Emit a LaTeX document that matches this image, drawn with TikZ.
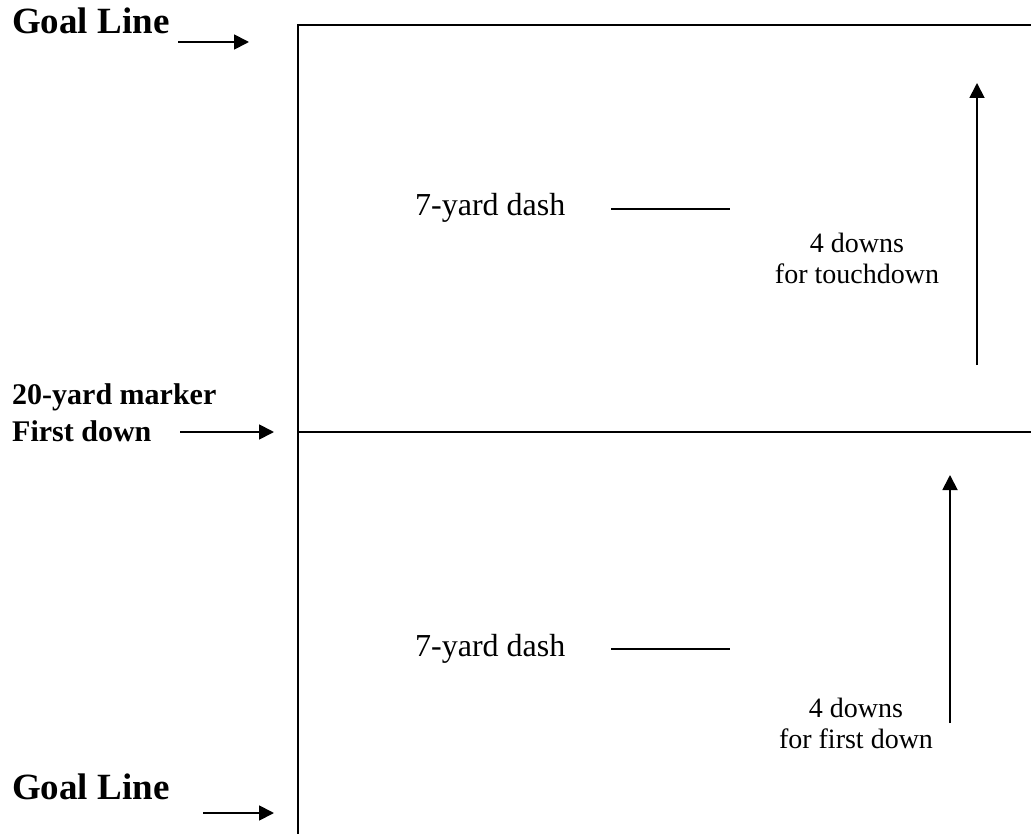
\documentclass[tikz,border=0pt]{standalone}
\usepackage{fontspec}
\setmainfont{Liberation Serif}
\usetikzlibrary{arrows.meta}

\begin{document}
\begin{tikzpicture}[x=1pt,y=-1pt,
   side/.style={font=\fontsize{30}{36}\selectfont\bfseries,anchor=base west,inner sep=0pt},
   goal/.style={side,font=\fontsize{37}{44}\selectfont\bfseries},
   note/.style={font=\fontsize{28}{31}\selectfont,inner sep=0pt,align=center},
   dashnote/.style={note,font=\fontsize{32}{36}\selectfont,anchor=base west},
   yard/.style={line width=1.8pt},
   pointer/.style={line width=1.8pt,-{Triangle[length=15pt,width=15pt]}}]
   \useasboundingbox (0,0) rectangle (1031,834);
   % field
   \draw[yard] (1031,25) -- (298,25) -- (298,834);
   \draw[yard] (298,432) -- (1031,432);
   % side labels
   \node[goal] (goaltop) at (12,34) {Goal Line};
   \node[side] (marker) at (12,404) {20-yard marker};
   \node[side] (firstdown) at (12,441) {First down};
   \node[goal] (goalbot) at (12,799) {Goal Line};
   \coordinate (gt1) at (178,42);  \coordinate (gt2) at (249,42);
   \coordinate (fd1) at (180,432); \coordinate (fd2) at (274,432);
   \coordinate (gb1) at (203,813); \coordinate (gb2) at (274,813);
   \draw[pointer] (gt1) -- (gt2);
   \draw[pointer] (fd1) -- (fd2);
   \draw[pointer] (gb1) -- (gb2);
   % upper half
   \node[dashnote] (dashtop) at (415,216) {7-yard dash};
   \draw[yard] (611,209) -- (730,209);
   \node[note] (downstop) at (857,258) {4 downs\\for touchdown};
   \coordinate (ut1) at (977,365); \coordinate (ut2) at (977,83);
   \draw[pointer] (ut1) -- (ut2);
   % lower half
   \node[dashnote] (dashbot) at (415,656) {7-yard dash};
   \draw[yard] (611,649) -- (730,649);
   \node[note] (downsbot) at (856,723) {4 downs\\for first down};
   \coordinate (lb1) at (950,723); \coordinate (lb2) at (950,475);
   \draw[pointer] (lb1) -- (lb2);
\end{tikzpicture}
\end{document}
